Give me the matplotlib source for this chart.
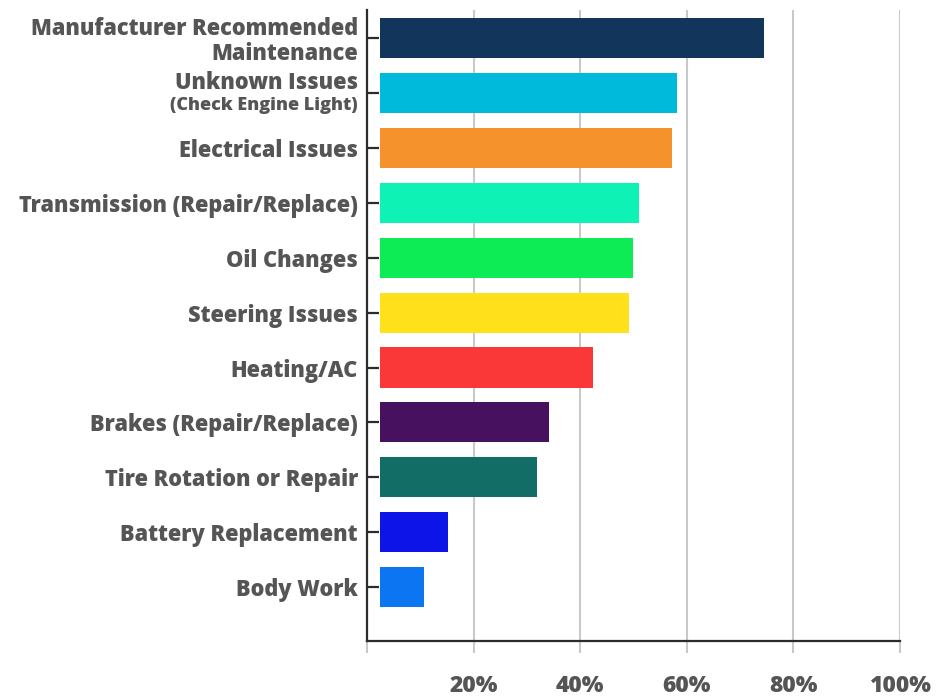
import matplotlib
matplotlib.use("Agg")
import matplotlib.pyplot as plt

categories = [
    "Manufacturer Recommended\nMaintenance",
    "Unknown Issues",
    "Electrical Issues",
    "Transmission (Repair/Replace)",
    "Oil Changes",
    "Steering Issues",
    "Heating/AC",
    "Brakes (Repair/Replace)",
    "Tire Rotation or Repair",
    "Battery Replacement",
    "Body Work",
]
subtitles = {1: "(Check Engine Light)"}
values = [74.5, 58.2, 57.2, 51.0, 49.9, 49.2, 42.4, 34.1, 31.9, 15.2, 10.7]
colors = ["#12355B", "#00BADB", "#F5922B", "#0EF2B6", "#0DEB55", "#FFE01A",
          "#FB3838", "#48115F", "#116D66", "#0D14E8", "#0C76F2"]
xticks = [0, 20, 40, 60, 80, 100]
xticklabels = ["", "20%", "40%", "60%", "80%", "100%"]

FONT = ["Open Sans", "DejaVu Sans"]
WEIGHT = 800
TXT = "#555555"
DARK = "#2b2b2b"
GRID = "#c9c9c9"
BAR_START = 2.44

fig = plt.figure(figsize=(9.49, 6.98), dpi=100)
ax = fig.add_axes([367/949, 57/698, 533/949, 631/698])

ypos = list(range(len(categories)))
ax.barh(ypos, [v - BAR_START for v in values], left=BAR_START, height=0.73,
        color=colors, zorder=3)

ax.set_xlim(0, 100)
ax.set_ylim(10.98, -0.51)

for s in ["top", "right"]:
    ax.spines[s].set_visible(False)
for s in ["left", "bottom"]:
    ax.spines[s].set_color(DARK)
    ax.spines[s].set_linewidth(1.6)
    ax.spines[s].set_zorder(4)

ax.set_xticks(xticks)
ax.set_xticklabels(xticklabels, fontfamily=FONT, fontweight=WEIGHT,
                   fontsize=16.5, color=TXT)
ax.tick_params(axis="x", which="major", direction="out", length=8.6,
               width=1.5, color=GRID, pad=15)
ax.set_xticks([0, 100], minor=True)
ax.tick_params(axis="x", which="minor", direction="inout", length=21,
               width=1.6, color=DARK)
ax.grid(axis="x", color=GRID, linewidth=1.5, zorder=0)

labels = [c if i not in subtitles else "" for i, c in enumerate(categories)]
ax.set_yticks(ypos)
ax.set_yticklabels(labels, fontfamily=FONT, fontweight=WEIGHT, fontsize=15.7,
                   color=TXT, linespacing=1.08)
ax.tick_params(axis="y", direction="in", length=8.6, width=1.6, color=DARK,
               pad=6.5)

for i, sub in subtitles.items():
    ax.annotate(categories[i], xy=(0, i), xycoords=("axes fraction", "data"),
                xytext=(-9, 10), textcoords="offset pixels", ha="right",
                va="center", fontfamily=FONT, fontweight=WEIGHT, fontsize=15.7,
                color=TXT)
    ax.annotate(sub, xy=(0, i), xycoords=("axes fraction", "data"),
                xytext=(-9, -13), textcoords="offset pixels", ha="right",
                va="center", fontfamily=FONT, fontweight=WEIGHT, fontsize=13,
                color=TXT)

fig.savefig("out.png", dpi=100)
